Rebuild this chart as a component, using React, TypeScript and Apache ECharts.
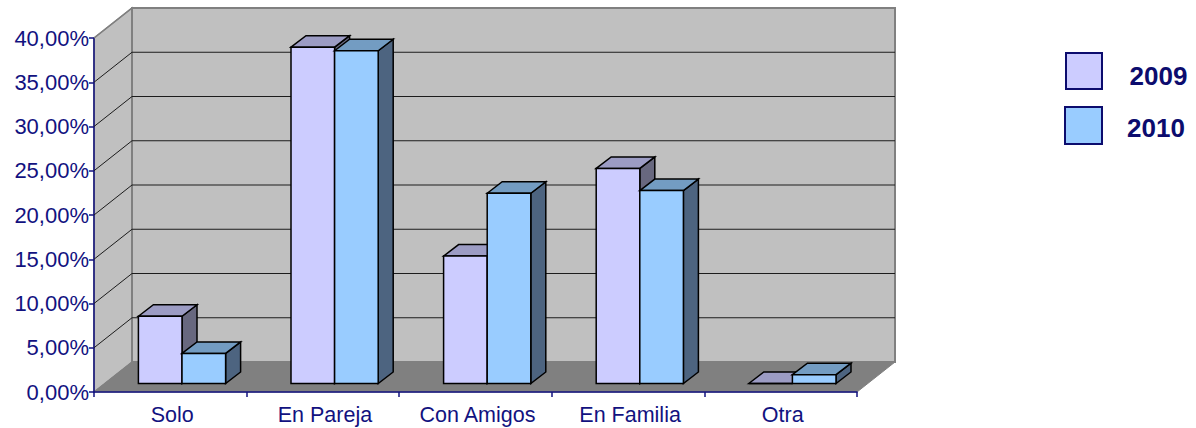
import React, { useEffect, useRef } from "react";
import * as echarts from "echarts";

const categories = ["Solo", "En Pareja", "Con Amigos", "En Familia", "Otra"];
const values2009 = [7.6, 38.0, 14.4, 24.3, 0];
const values2010 = [3.4, 37.6, 21.5, 21.8, 1.0];
const yTicks = [5, 10, 15, 20, 25, 30, 35, 40];

const NAVY = "#12127f";
const WALL = { dx: 38, dy: -30 };
const BAR_OFFSET = { dx: 11.7, dy: -8.5 };
const BAR_DEPTH = { dx: 15, dy: -11.5 };
const BAR_WIDTH = 43.6;

const poly = (points: number[][], fill: string, stroke: string, lineWidth: number) => ({
  type: "polygon",
  shape: { points },
  style: { fill, stroke, lineWidth, lineJoin: "miter" },
});

const wallsRenderer = (params: any) => {
  const { x, y, width, height } = params.coordSys;
  const b = y + height;
  const r = x + width;
  const { dx, dy } = WALL;
  return {
    type: "group",
    children: [
      poly([[x, y], [x + dx, y + dy], [x + dx, b + dy], [x, b]], "#c0c0c0", "#808080", 1.5),
      poly([[x + dx, y + dy], [r + dx, y + dy], [r + dx, b + dy], [x + dx, b + dy]], "#c0c0c0", "#808080", 2),
      poly([[x, b], [x + dx, b + dy], [r + dx, b + dy], [r, b]], "#808080", "#808080", 1),
    ],
  };
};

const gridRenderer = (params: any, api: any) => {
  const v = api.value(0);
  const [, y0] = api.coord([0, v]);
  const left = params.coordSys.x;
  const right = left + params.coordSys.width;
  const { dx, dy } = WALL;
  const top = v === 40;
  const color = top ? "#808080" : "#1c1c1c";
  const w = top ? 2 : 1;
  return {
    type: "group",
    children: [
      { type: "line", shape: { x1: left, y1: y0, x2: left + dx, y2: y0 + dy }, style: { stroke: color, lineWidth: top ? 1.5 : 1 } },
      { type: "line", shape: { x1: left + dx, y1: y0 + dy, x2: right + dx, y2: y0 + dy }, style: { stroke: color, lineWidth: w } },
    ],
  };
};

const barRenderer = (offset: number, front: string, topFill: string, side: string) => (_: any, api: any) => {
  const idx = api.value(0);
  const val = api.value(1);
  const [cx, top0] = api.coord([idx, val]);
  const [, base0] = api.coord([idx, 0]);
  const l = cx + BAR_OFFSET.dx + offset * BAR_WIDTH;
  const r = l + BAR_WIDTH;
  const t = top0 + BAR_OFFSET.dy;
  const b = base0 + BAR_OFFSET.dy;
  const { dx, dy } = BAR_DEPTH;
  return {
    type: "group",
    children: [
      poly([[r, t], [r + dx, t + dy], [r + dx, b + dy], [r, b]], side, "#000", 1.5),
      poly([[l, t], [l + dx, t + dy], [r + dx, t + dy], [r, t]], topFill, "#000", 1.5),
      poly([[l, t], [r, t], [r, b], [l, b]], front, "#000", 1.5),
    ],
  };
};

const LEGEND_INK = "#0c0c6e";
const legendSwatch = (x: number, y: number, size: number, fill: string) => ({
  type: "rect",
  shape: { x, y, width: size, height: size },
  style: { fill, stroke: LEGEND_INK, lineWidth: 2 },
});
const legendLabel = (x: number, y: number, text: string) => ({
  type: "text",
  x,
  y,
  style: {
    text,
    fill: LEGEND_INK,
    font: 'bold 26px "Liberation Sans"',
    verticalAlign: "middle",
    align: "left",
  },
});

export default function App() {
  const ref = useRef<HTMLDivElement>(null);
  useEffect(() => {
    document.body.style.margin = "0";
    const chart = echarts.init(ref.current!, undefined, { renderer: "svg" });
    chart.setOption({
      animation: false,
      backgroundColor: "#fff",
      grid: { left: 94, top: 38, width: 763, height: 354, containLabel: false },
      graphic: [
        legendSwatch(1066, 53, 36, "#ccccff"),
        legendLabel(1129.5, 75.5, "2009"),
        legendSwatch(1065, 107, 37, "#99ccff"),
        legendLabel(1127, 128, "2010"),
      ],
      xAxis: {
        type: "category",
        data: categories,
        boundaryGap: true,
        axisLine: { lineStyle: { color: NAVY, width: 1.5 } },
        axisTick: { show: true, length: 5, lineStyle: { color: NAVY, width: 1.5 } },
        axisLabel: { color: NAVY, fontFamily: "Liberation Sans", fontSize: 21.5, margin: 12, padding: [0, 0, 0, 4] },
        splitLine: { show: false },
      },
      yAxis: {
        type: "value",
        min: 0,
        max: 40,
        interval: 5,
        axisLine: { show: true, lineStyle: { color: NAVY, width: 1.5 } },
        axisTick: { show: true, length: 5, lineStyle: { color: NAVY, width: 1.5 } },
        axisLabel: {
          color: NAVY,
          fontFamily: "Liberation Sans",
          fontSize: 22,
          margin: 5,
          formatter: (v: number) => v.toFixed(2).replace(".", ",") + "%",
        },
        splitLine: { show: false },
      },
      series: [
        { type: "custom", name: "walls", data: [[0]], clip: false, silent: true, renderItem: wallsRenderer, z: 0 },
        { type: "custom", name: "grid", data: yTicks.map((v) => [v]), clip: false, silent: true, renderItem: gridRenderer, encode: { y: 0 }, z: 1 },
        {
          type: "custom",
          name: "2009",
          clip: false,
          z: 2,
          itemStyle: { color: "#ccccff" },
          encode: { x: 0, y: 1 },
          data: values2009.map((v, i) => [i, v]),
          renderItem: barRenderer(-1, "#ccccff", "#9c9cc4", "#68687f"),
        },
        {
          type: "custom",
          name: "2010",
          clip: false,
          z: 3,
          itemStyle: { color: "#99ccff" },
          encode: { x: 0, y: 1 },
          data: values2010.map((v, i) => [i, v]),
          renderItem: barRenderer(0, "#99ccff", "#739cc2", "#4d6480"),
        },
      ],
    });
    return () => chart.dispose();
  }, []);
  return <div ref={ref} style={{ width: 1196, height: 428 }} />;
}
